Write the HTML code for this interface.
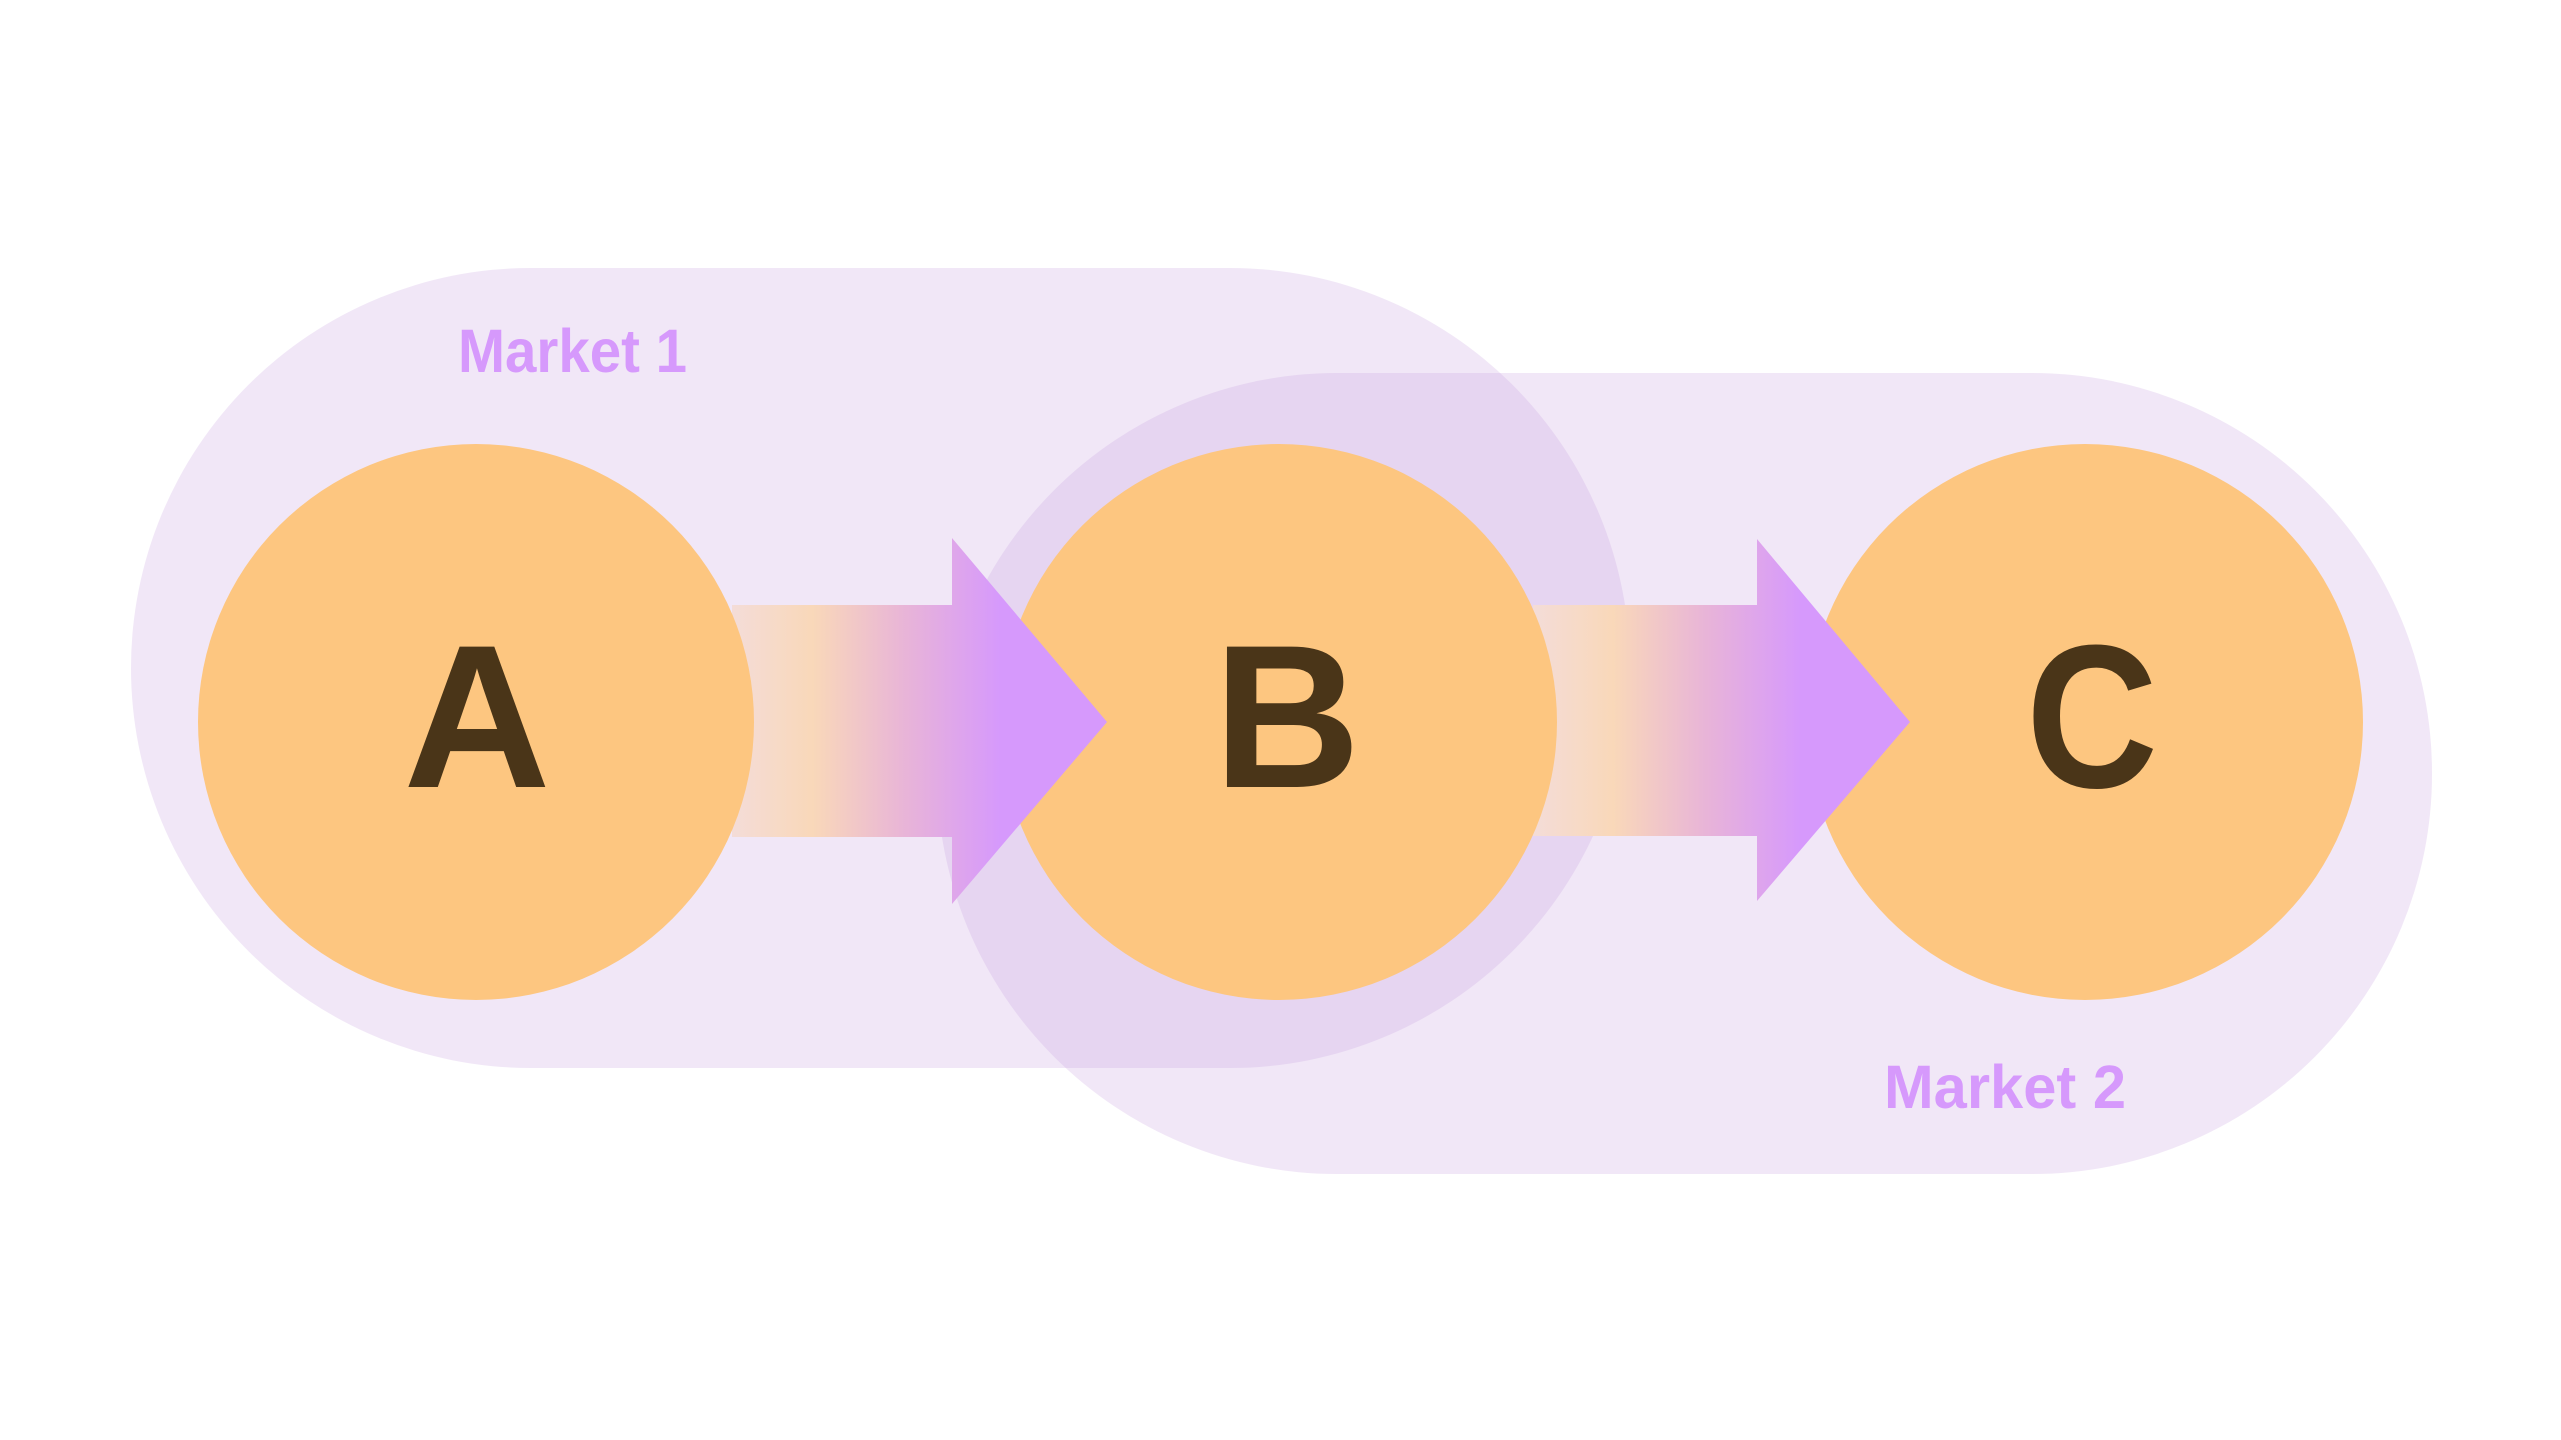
<!DOCTYPE html>
<html><head><meta charset="utf-8"><style>html,body{margin:0;padding:0;background:#fff;}svg{display:block;}</style></head>
<body>
<svg width="2561" height="1440" viewBox="0 0 2561 1440" xmlns="http://www.w3.org/2000/svg">
<defs>
<linearGradient id="g1" gradientUnits="userSpaceOnUse" x1="732" y1="0" x2="1000" y2="0">
<stop offset="0" stop-color="#f4dcd8"/>
<stop offset="0.3" stop-color="#f9d8b9"/>
<stop offset="0.65" stop-color="#e8b4d8"/>
<stop offset="1" stop-color="#d699fc"/>
</linearGradient>
<linearGradient id="g2" gradientUnits="userSpaceOnUse" x1="1533" y1="0" x2="1800" y2="0">
<stop offset="0" stop-color="#f4dcd8"/>
<stop offset="0.3" stop-color="#f9d8b9"/>
<stop offset="0.65" stop-color="#e8b4d8"/>
<stop offset="1" stop-color="#d699fc"/>
</linearGradient>
</defs>
<rect x="131" y="268" width="1499" height="800" rx="400" fill="rgba(200,160,225,0.25)"/>
<rect x="937" y="373" width="1495" height="801" rx="400" fill="rgba(200,160,225,0.25)"/>
<text x="458" y="372" font-family="Liberation Sans, sans-serif" font-weight="bold" font-size="61" fill="#d699fc" textLength="229" lengthAdjust="spacingAndGlyphs">Market 1</text>
<text x="1884" y="1108" font-family="Liberation Sans, sans-serif" font-weight="bold" font-size="61" fill="#d699fc" textLength="242" lengthAdjust="spacingAndGlyphs">Market 2</text>
<circle cx="2085" cy="722" r="278" fill="#fdc680"/>
<path d="M1533 605 H1757 V539 L1910 722 L1757 901 V836 H1533 Z" fill="url(#g2)"/>
<circle cx="1279" cy="722" r="278" fill="#fdc680"/>
<path d="M732 605 H952 V538 L1107 722 L952 904 V837 H732 Z" fill="url(#g1)"/>
<circle cx="476" cy="722" r="278" fill="#fdc680"/>
<g font-family="Liberation Sans, sans-serif" font-weight="bold" font-size="204" fill="#4a3518" text-anchor="middle">
<text x="477" y="787">A</text>
<text x="1287" y="787">B</text>
<text x="2092" y="787" textLength="132" lengthAdjust="spacingAndGlyphs">C</text>
</g>
</svg>
</body></html>
